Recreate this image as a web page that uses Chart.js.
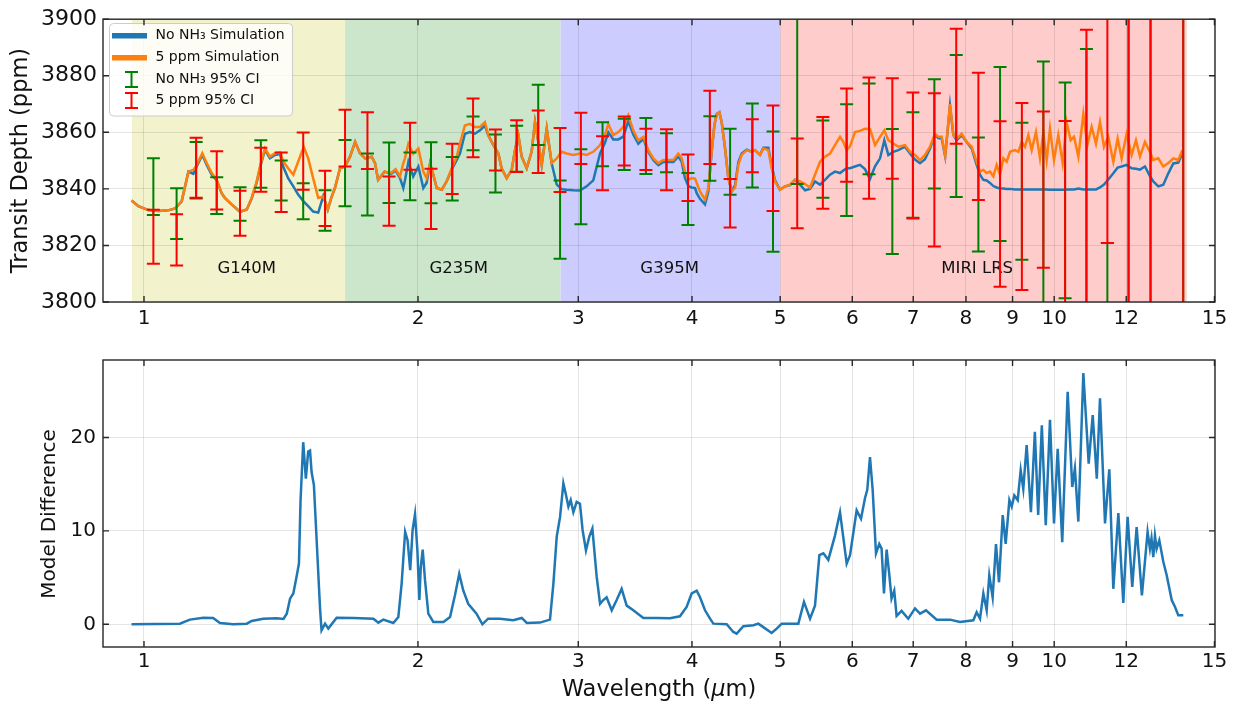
<!DOCTYPE html>
<html><head><meta charset="utf-8">
<script src="https://cdn.jsdelivr.net/npm/chart.js@4.4.1/dist/chart.umd.min.js"></script>
<style>
html,body{margin:0;padding:0;background:#fff;}
#wrap{position:relative;width:1237px;height:706px;background:#fff;}
#c1{position:absolute;left:0;top:0;}
#c2{position:absolute;left:0;top:340px;}
</style></head><body>
<div id="wrap"><canvas id="c1" width="1237" height="340"></canvas><canvas id="c2" width="1237" height="366"></canvas></div>
<script>
// ---------- DATA ----------
const xTicks = [1,2,3,4,5,6,7,8,9,10,12,15];
const depthTicks = [3800,3820,3840,3860,3880,3900];
const diffTicks = [0,10,20];

const topWave = [0.969,0.986,1.011,1.037,1.063,1.082,1.100,1.119,1.133,1.143,1.159,1.172,1.187,1.202,1.217,1.227,1.248,1.275,1.297,1.313,1.330,1.341,1.358,1.375,1.393,1.411,1.422,1.440,1.459,1.477,1.498,1.515,1.534,1.554,1.574,1.592,1.606,1.621,1.642,1.663,1.684,1.706,1.727,1.750,1.779,1.794,1.808,1.838,1.869,1.890,
1.911,1.927,1.935,1.952,1.976,2.002,2.027,2.044,2.062,2.079,2.097,2.124,2.150,2.178,2.206,2.224,2.252,2.281,2.310,2.340,2.369,2.389,2.420,2.451,2.471,2.503,2.535,2.556,2.578,2.600,2.633,2.666,2.689,2.712,2.735,2.770,2.805,2.841,2.877,2.913,2.963,3.013,3.064,3.116,3.170,3.210,3.237,3.278,3.320,3.362,3.405,3.448,3.492,3.537,3.582,3.628,3.674,3.720,3.768,3.816,
3.864,3.897,3.930,3.963,3.997,4.031,4.048,4.082,4.134,4.169,4.204,4.233,4.258,4.287,4.312,4.349,4.385,4.422,4.460,4.498,4.536,4.594,4.652,4.691,4.751,4.791,4.852,4.893,4.935,4.997,5.061,5.126,5.191,5.257,5.324,5.392,5.460,5.530,5.600,5.672,5.743,5.817,5.866,5.916,5.966,6.041,6.118,6.196,6.275,6.356,6.437,6.507,6.573,6.657,6.742,6.856,6.944,7.032,7.122,7.212,7.304,7.397,7.460,7.523,7.590,7.683,
7.748,7.813,7.913,8.014,8.116,8.219,8.289,8.359,8.430,8.501,8.573,8.646,8.719,8.793,8.867,8.942,9.056,9.133,9.211,9.288,9.367,9.447,9.550,9.647,9.729,9.811,9.894,9.995,10.104,10.216,10.320,10.425,10.514,10.630,10.765,10.874,10.994,11.115,11.228,11.342,11.467,11.613,11.741,11.860,12.011,12.164,12.298,12.423,12.581,12.741,12.849,13.013,13.179,13.347,13.517,13.689,13.806,13.864];

const blueDepth = [3835.9,3833.9,3832.5,3832.2,3832.4,3833.1,3835.6,3846.1,3845.3,3848.0,3852.0,3848.5,3845.0,3843.0,3838.5,3836.8,3834.5,3831.9,3832.7,3836.6,3842.3,3847.4,3853.8,3850.8,3852.0,3852.3,3847.9,3843.8,3840.9,3838.0,3835.5,3833.9,3832.0,3831.6,3837.5,3832.7,3836.8,3840.3,3847.3,3847.9,3851.4,3856.6,3852.6,3850.8,3851.4,3849.1,3843.2,3846.1,3845.3,3846.5,
3843.8,3840.3,3843.0,3849.6,3844.4,3847.9,3840.3,3842.1,3849.0,3845.0,3840.3,3839.7,3842.6,3846.8,3850.2,3852.5,3859.5,3860.1,3859.5,3860.7,3862.4,3859.0,3855.5,3852.5,3847.3,3843.8,3846.7,3853.7,3859.0,3851.4,3847.3,3853.1,3863.6,3856.6,3848.5,3861.3,3849.0,3841.5,3839.9,3839.7,3839.5,3839.4,3840.9,3843.0,3852.5,3856.4,3860.0,3857.5,3857.5,3858.5,3864.0,3859.2,3856.0,3857.7,3853.1,3850.1,3848.4,3849.5,3849.6,3849.5,
3851.5,3849.6,3843.8,3841.0,3840.5,3840.3,3838.5,3836.5,3834.5,3839.1,3853.1,3862.4,3866.5,3867.1,3863.6,3854.3,3843.8,3839.1,3841.2,3849.5,3852.5,3853.9,3853.2,3853.7,3852.0,3854.5,3854.5,3848.3,3843.0,3839.7,3840.9,3841.3,3843.2,3841.5,3839.5,3840.0,3842.6,3841.5,3843.2,3845.0,3846.1,3845.6,3846.5,3847.3,3847.3,3847.9,3848.5,3847.0,3843.5,3848.0,3850.8,3857.2,3852.0,3853.1,3853.7,3854.9,3852.5,3850.4,3849.1,3850.5,3854.3,3859.0,3858.0,3857.8,3851.5,3869.5,
3859.0,3857.2,3859.0,3856.6,3854.3,3848.5,3845.0,3843.2,3843.0,3842.1,3841.0,3840.5,3840.1,3840.1,3840.0,3840.0,3839.8,3839.8,3839.8,3839.8,3839.8,3839.8,3839.8,3839.8,3839.8,3839.8,3839.7,3839.7,3839.7,3839.7,3839.8,3839.8,3839.8,3840.1,3839.8,3839.8,3839.8,3839.8,3840.5,3841.5,3843.3,3845.5,3847.5,3847.9,3848.5,3847.3,3847.1,3846.8,3847.9,3844.5,3842.6,3840.9,3841.5,3845.5,3849.0,3849.3,3852.0,3852.5];

const orangeDepth = [3835.9,3833.9,3832.5,3832.2,3832.4,3833.1,3835.6,3846.1,3846.7,3848.5,3852.6,3849.1,3845.6,3843.2,3838.5,3836.8,3834.5,3831.9,3832.7,3836.8,3842.7,3847.9,3854.3,3851.4,3852.6,3852.9,3849.8,3847.3,3845.0,3849.6,3854.9,3850.8,3843.8,3836.8,3837.3,3832.7,3836.8,3840.3,3847.3,3847.9,3851.4,3856.6,3852.6,3850.8,3851.4,3849.1,3843.2,3846.1,3845.6,3847.0,
3844.4,3849.0,3850.8,3856.0,3852.5,3854.3,3846.1,3843.8,3849.0,3845.0,3840.3,3839.7,3842.6,3847.3,3851.4,3856.0,3862.4,3863.0,3861.9,3861.9,3863.6,3859.0,3855.5,3852.5,3847.3,3843.8,3846.7,3853.7,3859.0,3851.4,3847.3,3853.1,3863.6,3856.6,3848.5,3861.3,3849.1,3850.8,3853.1,3852.5,3852.0,3852.5,3852.0,3853.1,3855.5,3859.0,3863.0,3859.0,3860.1,3861.9,3866.0,3860.7,3857.2,3858.4,3853.7,3850.8,3849.1,3850.2,3850.2,3850.2,
3852.5,3850.8,3846.1,3843.2,3843.8,3843.6,3842.1,3839.1,3836.2,3840.3,3853.1,3862.4,3866.5,3867.1,3863.6,3854.3,3843.8,3839.1,3840.3,3848.5,3852.0,3853.7,3853.1,3853.7,3852.0,3854.3,3853.7,3847.3,3842.6,3839.7,3840.9,3841.5,3843.2,3842.6,3841.7,3840.5,3845.0,3849.6,3851.4,3852.5,3855.5,3858.4,3856.6,3853.7,3855.0,3860.1,3860.5,3861.3,3861.2,3855.5,3858.4,3860.7,3857.2,3856.0,3854.9,3855.5,3853.1,3852.0,3850.2,3852.0,3854.9,3859.5,3858.4,3858.4,3851.8,3870.0,
3859.0,3857.8,3859.5,3856.6,3854.9,3849.6,3846.1,3846.7,3845.6,3846.1,3844.4,3848.5,3845.0,3850.8,3849.6,3853.1,3853.7,3853.1,3856.6,3854.9,3859.0,3853.7,3860.1,3850.8,3860.0,3850.2,3861.3,3850.2,3859.0,3849.1,3863.5,3857.2,3858.4,3851.4,3866.5,3855.5,3861.9,3856.0,3863.6,3854.9,3858.4,3849.6,3857.8,3850.8,3859.5,3852.0,3857.2,3851.4,3856.6,3853.1,3850.2,3850.8,3847.9,3849.1,3850.8,3850.2,3853.1,3852.5];

const ciWave = [1.024,1.086,1.141,1.202,1.275,1.344,1.415,1.496,1.581,1.663,1.760,1.859,1.960,2.067,2.181,2.299,2.433,2.567,2.711,2.865,3.020,3.190,3.370,3.560,3.750,3.960,4.185,4.405,4.660,4.910,5.220,5.570,5.915,6.260,6.640,6.995,7.385,7.805,8.255,8.720,9.215,9.730,10.280,10.850,11.440,12.070,12.760,13.860];
const noNH3Low  = [3830.8,3822.3,3836.6,3831.1,3828.7,3840.4,3835.9,3829.3,3825.2,3833.9,3830.6,3835.0,3836.0,3834.9,3835.9,3853.7,3838.7,3846.1,3855.5,3815.3,3827.5,3848.0,3846.7,3845.3,3845.9,3827.2,3842.9,3837.9,3840.5,3817.8,3841.7,3836.9,3830.4,3845.2,3817.0,3829.8,3840.1,3837.1,3817.9,3821.6,3814.9,3795.0,3801.3,3790.0,3790.0,3790.0,3790.0,3790.0];
const noNH3High = [3850.8,3840.2,3856.6,3844.1,3840.6,3857.2,3850.0,3842.0,3839.5,3857.3,3852.5,3856.4,3852.9,3856.5,3851.3,3865.6,3859.2,3862.3,3876.8,3843.0,3854.0,3863.6,3864.8,3865.1,3859.7,3845.6,3865.7,3861.3,3870.2,3860.3,3910.0,3864.2,3869.9,3877.3,3861.2,3867.1,3878.8,3887.3,3858.2,3883.1,3863.4,3885.0,3877.6,3889.5,3820.9,3910.0,3910.0,3910.0];
const ppm5Low   = [3813.5,3812.9,3836.9,3832.7,3823.4,3839.0,3831.8,3839.7,3826.9,3847.9,3847.0,3827.0,3846.8,3825.8,3838.2,3851.2,3846.5,3846.0,3845.6,3838.9,3848.8,3839.5,3848.3,3846.7,3839.5,3835.7,3848.8,3826.3,3845.9,3832.2,3826.1,3833.0,3842.5,3836.5,3843.6,3829.5,3819.6,3856.0,3836.1,3805.4,3804.2,3812.1,3790.0,3790.0,3820.9,3790.0,3790.0,3790.0];
const ppm5High  = [3832.6,3831.0,3858.1,3853.3,3839.3,3854.5,3852.9,3859.9,3846.4,3868.0,3867.1,3844.4,3863.4,3847.1,3856.0,3872.0,3861.0,3864.3,3867.7,3861.5,3866.9,3858.6,3865.6,3861.3,3861.1,3852.2,3874.7,3843.5,3864.6,3869.5,3857.8,3865.4,3875.5,3879.4,3879.1,3874.1,3873.8,3896.6,3881.1,3863.9,3870.4,3867.4,3864.0,3896.3,3910.0,3910.0,3910.0,3910.0];

const bandNames = ['G140M','G235M','G395M','MIRI LRS'];
const bandStart = [0.970,1.663,2.869,5.003];
const bandEnd   = [1.663,2.869,5.003,13.98];
const bandLabelWave = [1.297,2.217,3.780,8.230];
const bandLabelDepth = [3811.8,3811.8,3811.8,3811.8];

const legendLabels = ['No NH\u2083 Simulation','5 ppm Simulation','No NH\u2083 95% CI','5 ppm 95% CI'];

const diffWave = [0.969,1.095,1.123,1.162,1.191,1.212,1.253,1.297,1.313,1.352,1.399,1.423,1.435,1.447,1.459,1.471,1.480,1.486,1.496,1.506,1.515,1.522,1.528,1.537,1.547,1.561,1.567,1.581,1.594,1.628,1.699,1.787,1.809,1.832,1.879,1.903,1.919,1.936,1.948,1.961,1.973,1.985,1.997,2.007,2.014,2.024,2.036,2.053,2.079,2.133,2.169,2.196,2.220,2.243,2.271,2.319,2.354,2.388,2.461,2.545,2.600,2.634,2.723,2.793,2.817,2.841,2.865,2.889,2.906,2.926,2.943,2.963,2.988,3.013,3.033,3.059,3.085,3.109,3.143,3.170,3.196,3.223,3.265,3.306,3.348,3.391,3.448,3.537,3.658,3.783,3.880,3.946,3.997,4.048,4.082,4.134,4.187,4.222,4.367,4.441,4.479,4.555,4.672,4.731,4.791,4.893,4.956,5.019,5.235,5.310,5.392,5.460,5.521,5.577,5.647,5.743,5.817,5.916,5.966,6.067,6.134,6.196,6.232,6.275,6.318,6.371,6.424,6.462,6.501,6.545,6.588,6.627,6.672,6.712,6.797,6.913,7.032,7.122,7.230,7.428,7.683,7.880,8.150,8.219,8.289,8.359,8.430,8.486,8.558,8.631,8.697,8.779,8.845,8.928,8.981,9.040,9.118,9.187,9.248,9.327,9.428,9.523,9.603,9.692,9.789,9.894,9.995,10.089,10.206,10.347,10.467,10.538,10.630,10.765,10.912,11.024,11.138,11.228,11.372,11.496,11.613,11.762,11.910,12.041,12.183,12.319,12.484,12.665,12.741,12.791,12.849,12.903,12.958,13.046,13.179,13.292,13.462,13.576,13.689,13.864];
const modelDiff = [0,0.07,0.5,0.71,0.68,0.14,0,0.07,0.36,0.6,0.64,0.57,1.14,2.75,3.3,5.1,6.5,13.3,19.5,15.6,18.5,18.6,16.3,14.9,9.4,1.7,-0.64,0.07,-0.46,0.71,0.68,0.6,0.18,0.5,0.14,0.79,4.36,9.9,9.0,5.8,10.1,11.8,7.9,2.6,6.1,8.0,4.7,1.14,0.25,0.25,0.79,3.1,5.4,3.6,2.2,1.14,0,0.6,0.6,0.43,0.68,0.14,0.18,0.5,4.36,9.4,11.5,15.1,14.0,12.6,13.3,12.0,13.1,12.9,10.1,7.9,9.4,10.25,5.1,2.2,2.6,2.9,1.5,2.6,3.8,2.0,1.5,0.68,0.68,0.64,0.86,1.86,3.3,3.6,2.9,1.5,0.6,0.07,0,-0.82,-1.0,-0.2,-0.1,0.07,-0.3,-0.93,-0.46,0.07,0.07,2.4,0.6,2.0,7.4,7.6,6.9,9.5,12.0,6.5,7.4,12.2,11.3,13.5,14.4,17.9,14.4,7.6,8.6,8.1,3.3,8.0,5.4,2.75,3.6,0.9,1.43,0.6,1.7,1.14,1.5,0.5,0.5,0.25,0.43,1.3,0.6,3.3,1.5,5.25,2.9,8.6,4.5,11.7,8.6,13.3,12.6,13.8,13.3,16.5,14.5,19.2,12.0,20.6,11.7,21.3,10.6,21.9,10.8,18.8,8.8,24.9,14.7,16.7,11.0,26.9,17.2,22.4,15.6,24.2,10.8,16.6,3.8,11.9,2.3,11.5,4.0,10.4,3.1,9.9,8.1,9.2,7.2,9.5,8.1,9.0,6.7,5.25,2.6,1.86,0.96,0.96];

// ---------- SETUP ----------
const X_MIN = 0.9015, X_MAX = 15.02;
const FONT = '"DejaVu Sans", "Liberation Sans", sans-serif';
Chart.defaults.font.family = FONT;
Chart.defaults.color = '#111';

const gridCol = 'rgba(0,0,0,0.1)';
function pts(xs, ys){ return xs.map((w,i)=>({x:w, y:ys[i]})); }
function clipArea(ctx, a){ ctx.beginPath(); ctx.rect(a.left, a.top, a.right-a.left, a.bottom-a.top); ctx.clip(); }

const framePlugin = {
  id:'frame',
  afterDraw(chart){
    const {ctx, chartArea:a, scales:{x,y}} = chart;
    ctx.save();
    ctx.strokeStyle = '#262626'; ctx.lineWidth = 1.4;
    ctx.beginPath();
    x.ticks.forEach(t=>{ const p = x.getPixelForValue(t.value);
      ctx.moveTo(p,a.bottom); ctx.lineTo(p,a.bottom-6); ctx.moveTo(p,a.top); ctx.lineTo(p,a.top+6); });
    y.ticks.forEach(t=>{ const p = y.getPixelForValue(t.value);
      ctx.moveTo(a.left,p); ctx.lineTo(a.left+6,p); ctx.moveTo(a.right,p); ctx.lineTo(a.right-6,p); });
    ctx.stroke();
    ctx.strokeRect(a.left, a.top, a.right-a.left, a.bottom-a.top);
    ctx.restore();
  }
};

const bandColors = ['#f2f2cc','#cce6cc','#ccccff','#ffcccc'];
const topDecor = {
  id:'topDecor',
  beforeDraw(chart){
    const {ctx, chartArea:a, scales:{x}} = chart;
    ctx.save(); clipArea(ctx,a);
    bandNames.forEach((n,i)=>{
      const x0 = x.getPixelForValue(bandStart[i]), x1 = x.getPixelForValue(bandEnd[i]);
      ctx.fillStyle = bandColors[i];
      ctx.fillRect(x0, a.top, x1-x0, a.bottom-a.top);
    });
    ctx.restore();
  },
  beforeDatasetsDraw(chart){
    const {ctx, scales:{x,y}} = chart;
    ctx.save();
    ctx.font = '16.5px ' + FONT; ctx.fillStyle = '#111';
    ctx.textAlign = 'center'; ctx.textBaseline = 'middle';
    bandNames.forEach((n,i)=> ctx.fillText(n, x.getPixelForValue(bandLabelWave[i]), y.getPixelForValue(bandLabelDepth[i])));
    ctx.restore();
  },
  afterDatasetsDraw(chart){
    const {ctx, chartArea:a, scales:{x,y}} = chart;
    ctx.save(); clipArea(ctx,a);
    ctx.lineWidth = 2;
    const cap = 6.5;
    function bar(w, lo, hi, col){
      const px = x.getPixelForValue(w), p0 = y.getPixelForValue(lo), p1 = y.getPixelForValue(hi);
      ctx.strokeStyle = col; ctx.beginPath();
      ctx.moveTo(px,p0); ctx.lineTo(px,p1);
      ctx.moveTo(px-cap,p0); ctx.lineTo(px+cap,p0);
      ctx.moveTo(px-cap,p1); ctx.lineTo(px+cap,p1);
      ctx.stroke();
    }
    ciWave.forEach((w,i)=>bar(w, noNH3Low[i], noNH3High[i], '#008000'));
    ciWave.forEach((w,i)=>bar(w, ppm5Low[i], ppm5High[i], '#ff0000'));
    ctx.restore();
  },
  afterDraw(chart){
    const ctx = chart.ctx;
    ctx.save();
    const lx=109.5, ly=23.5, lw=183, lh=92.5, r=4;
    ctx.beginPath();
    ctx.moveTo(lx+r,ly); ctx.lineTo(lx+lw-r,ly); ctx.quadraticCurveTo(lx+lw,ly,lx+lw,ly+r);
    ctx.lineTo(lx+lw,ly+lh-r); ctx.quadraticCurveTo(lx+lw,ly+lh,lx+lw-r,ly+lh);
    ctx.lineTo(lx+r,ly+lh); ctx.quadraticCurveTo(lx,ly+lh,lx,ly+lh-r);
    ctx.lineTo(lx,ly+r); ctx.quadraticCurveTo(lx,ly,lx+r,ly); ctx.closePath();
    ctx.fillStyle = 'rgba(255,255,255,0.8)'; ctx.fill();
    ctx.strokeStyle = '#cccccc'; ctx.lineWidth = 1; ctx.stroke();
    const rows = [35.7, 57.7, 79.5, 100.5];
    const cols = ['#1f77b4','#ff7f0e','#008000','#ff0000'];
    rows.forEach((ry,i)=>{
      if (i < 2){
        ctx.strokeStyle = cols[i]; ctx.lineWidth = 5.5; ctx.lineCap='butt';
        ctx.beginPath(); ctx.moveTo(112, ry); ctx.lineTo(147, ry); ctx.stroke();
      } else {
        ctx.strokeStyle = cols[i]; ctx.lineWidth = 2;
        ctx.beginPath();
        ctx.moveTo(131.5, ry-7.5); ctx.lineTo(131.5, ry+7.5);
        ctx.moveTo(125, ry-7.5); ctx.lineTo(138, ry-7.5);
        ctx.moveTo(125, ry+7.5); ctx.lineTo(138, ry+7.5);
        ctx.stroke();
      }
      ctx.fillStyle = '#111'; ctx.font = '14px ' + FONT;
      ctx.textAlign='left'; ctx.textBaseline='middle';
      ctx.fillText(legendLabels[i], 155.5, ry);
    });
    ctx.restore();
  }
};

const bottomTitles = {
  id:'btitles',
  afterDraw(chart){
    const ctx = chart.ctx, a = chart.chartArea;
    ctx.save();
    // x title with italic mu
    const parts = [['Wavelength (', '22.5px '+FONT], ['\u03bc', 'italic 22.5px '+FONT], ['m)', '22.5px '+FONT]];
    let total = 0;
    parts.forEach(p=>{ ctx.font = p[1]; total += ctx.measureText(p[0]).width; });
    let xx = (a.left+a.right)/2 - total/2;
    ctx.fillStyle = '#111'; ctx.textBaseline = 'middle'; ctx.textAlign = 'left';
    parts.forEach(p=>{ ctx.font = p[1]; ctx.fillText(p[0], xx, 350); xx += ctx.measureText(p[0]).width; });
    // y title
    ctx.translate(50, 174);
    ctx.rotate(-Math.PI/2);
    ctx.font = '20px ' + FONT; ctx.textAlign = 'center';
    ctx.fillText('Model Difference', 0, 0);
    ctx.restore();
  }
};

function xScale(h, pad){
  return {
    type:'logarithmic', min:X_MIN, max:X_MAX,
    afterBuildTicks: s => { s.ticks = xTicks.map(v=>({value:v})); },
    afterFit: s => { s.height = h; },
    ticks:{autoSkip:false, maxRotation:0, minRotation:0, padding:pad, font:{size:20}, color:'#111', callback: v => String(v)},
    grid:{color:gridCol, lineWidth:1, drawTicks:false},
    border:{display:false}
  };
}

// ---------- TOP CHART ----------
new Chart(document.getElementById('c1'), {
  type:'line',
  data:{ datasets:[
    {label:'5 ppm Simulation', data:pts(topWave, orangeDepth), borderColor:'#ff7f0e', borderWidth:2.5, pointRadius:0, tension:0, order:0},
    {label:'No NH3 Simulation', data:pts(topWave, blueDepth), borderColor:'#1f77b4', borderWidth:2.5, pointRadius:0, tension:0, order:1}
  ]},
  options:{
    responsive:false, animation:false, devicePixelRatio:1,
    layout:{padding:{left:4, right:22, top:16, bottom:0}},
    plugins:{legend:{display:false}, tooltip:{enabled:false}},
    scales:{
      x: xScale(38, 5),
      y: {
        type:'linear', min:3800, max:3900,
        afterBuildTicks: s => { s.ticks = depthTicks.map(v=>({value:v})); },
        afterFit: s => { s.width = 99; },
        ticks:{padding:6, font:{size:22}, color:'#111', callback: v => String(v)},
        grid:{color:gridCol, lineWidth:1, drawTicks:false},
        border:{display:false},
        title:{display:true, text:'Transit Depth (ppm)', font:{size:22.5}, color:'#111', padding:{top:4, bottom:4}}
      }
    }
  },
  plugins:[topDecor, framePlugin]
});

// ---------- BOTTOM CHART ----------
new Chart(document.getElementById('c2'), {
  type:'line',
  data:{ datasets:[
    {label:'Model Difference', data:pts(diffWave, modelDiff), borderColor:'#1f77b4', borderWidth:2.5, pointRadius:0, tension:0}
  ]},
  options:{
    responsive:false, animation:false, devicePixelRatio:1,
    layout:{padding:{left:34, right:22, top:20, bottom:0}},
    plugins:{legend:{display:false}, tooltip:{enabled:false}},
    scales:{
      x: xScale(59, 3),
      y: {
        type:'linear', min:-2.43, max:28.3,
        afterBuildTicks: s => { s.ticks = diffTicks.map(v=>({value:v})); },
        afterFit: s => { s.width = 69; },
        ticks:{padding:7, font:{size:20}, color:'#111', callback: v => String(v)},
        grid:{color:gridCol, lineWidth:1, drawTicks:false},
        border:{display:false}
      }
    }
  },
  plugins:[framePlugin, bottomTitles]
});
</script>
</body></html>
